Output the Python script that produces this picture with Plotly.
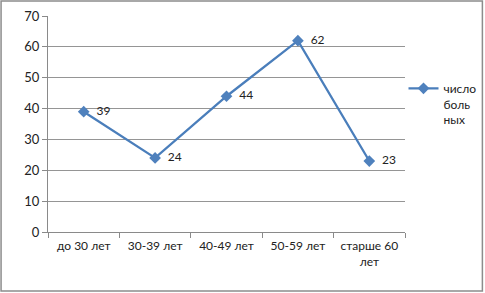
import plotly.graph_objects as go

categories = ["до 30 лет", "30-39 лет", "40-49 лет", "50-59 лет", "старше 60<br>лет"]
values = [39, 24, 44, 62, 23]
series_name = "число<br>боль<br>ных"
y_ticks = [0, 10, 20, 30, 40, 50, 60, 70]

L, R, T, B = 48, 405.5, 16, 232
W, H = 485, 293
pw, ph = R - L, B - T
FONT = "Lato"

fig = go.Figure()
fig.add_trace(go.Scatter(
    x=categories, y=values, mode="lines+markers+text",
    name=series_name,
    line=dict(color="#4a7ebb", width=2.3),
    marker=dict(symbol="diamond", size=9, color="#4f81bd"),
    text=["  " + str(v) for v in values], textposition="middle right",
    textfont=dict(family=FONT, size=12, color="#222222"),
    cliponaxis=False,
))

fig.update_layout(
    width=W, height=H,
    margin=dict(l=L, r=W - R, t=T, b=H - B, pad=0, autoexpand=False),
    paper_bgcolor="white", plot_bgcolor="white",
    font=dict(family=FONT, size=12, color="#222222"),
    xaxis=dict(
        type="category", tickson="boundaries", ticks="outside", ticklen=5,
        tickcolor="#8a8a8a", showline=True, linecolor="#8a8a8a", linewidth=1,
        showgrid=False, range=[-0.5, 4.5], tickfont=dict(size=12),
        automargin=False, ticklabelstandoff=3,
    ),
    yaxis=dict(
        range=[0, 70], tickvals=y_ticks, ticks="outside", ticklen=5,
        tickcolor="#8a8a8a", showline=True, linecolor="#8a8a8a", linewidth=1,
        showgrid=True, gridcolor="#959595", gridwidth=1, zeroline=False,
        tickfont=dict(size=13), automargin=False,
    ),
    legend=dict(
        x=(404 - L) / pw, xanchor="left", y=(232 - 74) / ph, yanchor="top",
        valign="top", font=dict(size=12), itemwidth=30,
        bgcolor="rgba(0,0,0,0)",
    ),
    showlegend=True,
    shapes=[dict(
        type="rect", xref="paper", yref="paper",
        x0=(1 - L) / pw, x1=(483 - L) / pw,
        y0=(B - 291) / ph, y1=(B - 1) / ph,
        line=dict(color="#8c8c8c", width=1.5), fillcolor="rgba(0,0,0,0)",
        layer="below",
    )],
)

fig.write_html("out.html", config={"displayModeBar": False},
               post_script="document.body.style.margin='0';document.body.style.overflow='hidden';")
